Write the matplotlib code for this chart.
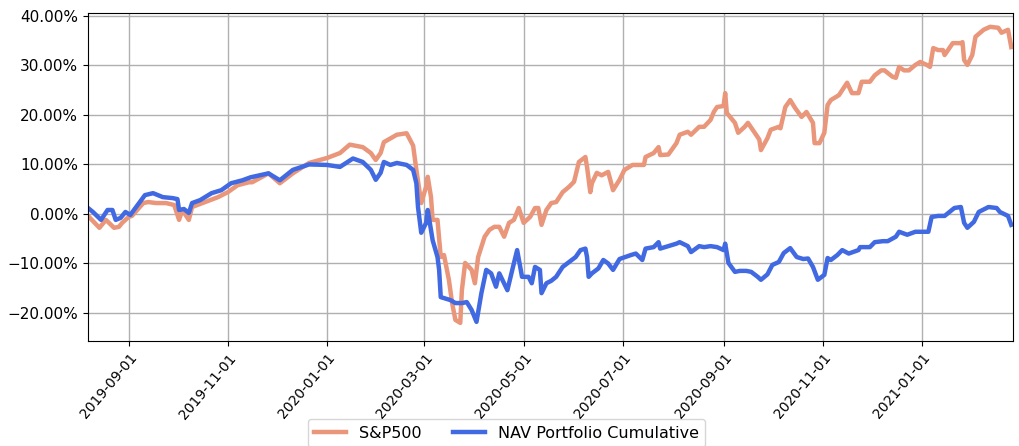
import pandas as pd
import matplotlib
matplotlib.use("Agg")
import matplotlib.pyplot as plt
import matplotlib.dates as mdates
from matplotlib.ticker import PercentFormatter

# S&P500 cumulative return (%)
sp_dates = [
    "2019-08-07", "2019-08-14", "2019-08-18", "2019-08-23", "2019-08-26", "2019-08-28",
    "2019-09-01", "2019-09-03", "2019-09-10", "2019-09-13", "2019-09-18", "2019-09-24",
    "2019-09-29", "2019-10-02", "2019-10-04", "2019-10-08", "2019-10-10", "2019-10-18",
    "2019-10-26", "2019-11-01", "2019-11-07", "2019-11-14", "2019-11-16", "2019-11-26",
    "2019-12-03", "2019-12-11", "2019-12-21", "2020-01-01", "2020-01-09", "2020-01-15",
    "2020-01-23", "2020-01-28", "2020-01-31", "2020-02-03", "2020-02-05", "2020-02-13",
    "2020-02-19", "2020-02-23", "2020-02-25", "2020-02-28", "2020-03-02", "2020-03-03",
    "2020-03-05", "2020-03-06", "2020-03-09", "2020-03-11", "2020-03-13", "2020-03-16",
    "2020-03-18", "2020-03-20", "2020-03-23", "2020-03-24", "2020-03-26", "2020-03-30",
    "2020-04-01", "2020-04-03", "2020-04-07", "2020-04-10", "2020-04-13", "2020-04-16",
    "2020-04-19", "2020-04-22", "2020-04-25", "2020-04-28", "2020-05-01", "2020-05-05",
    "2020-05-08", "2020-05-10", "2020-05-12", "2020-05-15", "2020-05-18", "2020-05-21",
    "2020-05-25", "2020-05-29", "2020-06-01", "2020-06-04", "2020-06-08", "2020-06-09",
    "2020-06-11", "2020-06-12", "2020-06-15", "2020-06-18", "2020-06-22", "2020-06-25",
    "2020-06-29", "2020-07-02", "2020-07-07", "2020-07-10", "2020-07-14", "2020-07-15",
    "2020-07-20", "2020-07-23", "2020-07-24", "2020-07-29", "2020-08-03", "2020-08-05",
    "2020-08-10", "2020-08-12", "2020-08-17", "2020-08-20", "2020-08-24", "2020-08-26",
    "2020-08-28", "2020-09-01", "2020-09-02", "2020-09-03", "2020-09-08", "2020-09-10",
    "2020-09-14", "2020-09-16", "2020-09-21", "2020-09-23", "2020-09-24", "2020-09-28",
    "2020-09-30", "2020-10-05", "2020-10-06", "2020-10-09", "2020-10-12", "2020-10-15",
    "2020-10-19", "2020-10-22", "2020-10-26", "2020-10-27", "2020-10-30", "2020-11-02",
    "2020-11-04", "2020-11-06", "2020-11-11", "2020-11-16", "2020-11-19", "2020-11-23",
    "2020-11-25", "2020-11-30", "2020-12-03", "2020-12-07", "2020-12-09", "2020-12-14",
    "2020-12-16", "2020-12-18", "2020-12-21", "2020-12-24", "2020-12-28", "2020-12-31",
    "2021-01-04", "2021-01-06", "2021-01-08", "2021-01-11", "2021-01-14", "2021-01-15",
    "2021-01-20", "2021-01-25", "2021-01-26", "2021-01-27", "2021-01-29", "2021-02-01",
    "2021-02-03", "2021-02-08", "2021-02-12", "2021-02-17", "2021-02-19", "2021-02-23",
    "2021-02-25",
]
sp_values = [
    -0.4, -2.8, -1.2, -2.8, -2.6, -1.8,
    -0.6, -0.4, 2.2, 2.4, 2.2, 2.2,
    1.8, -1.2, 0.8, -1.2, 1.4, 2.4,
    3.4, 4.4, 5.8, 6.4, 6.4, 8.2,
    6.2, 8.2, 10.3, 11.3, 12.3, 14.0,
    13.5, 12.3, 10.9, 12.3, 14.5, 16.0,
    16.3, 13.8, 8.9, 2.2, 5.5, 7.5,
    3.4, -1.2, -1.2, -8.7, -8.3, -13.3,
    -18.0, -21.4, -22.0, -15.4, -9.9, -11.3,
    -14.0, -8.7, -4.6, -3.2, -2.6, -2.6,
    -4.6, -1.8, -1.2, 1.2, -1.8, -0.6,
    1.2, 1.2, -2.2, 0.8, 2.2, 2.4,
    4.4, 5.5, 6.5, 10.5, 11.5, 9.5,
    4.4, 6.2, 8.3, 7.8, 8.5, 4.8,
    6.9, 8.9, 9.9, 9.9, 9.9, 11.5,
    12.3, 13.5, 11.9, 12.0, 14.3, 16.0,
    16.6, 16.0, 17.6, 17.6, 19.0, 20.6,
    21.6, 21.8, 24.4, 20.4, 18.4, 16.4,
    17.6, 18.4, 16.0, 15.0, 12.9, 15.3,
    17.0, 17.6, 17.3, 21.6, 23.0, 21.4,
    19.6, 20.6, 18.4, 14.3, 14.3, 16.4,
    22.0, 23.0, 24.0, 26.5, 24.4, 24.4,
    26.7, 26.7, 28.0, 29.0, 29.0, 27.7,
    27.5, 29.7, 29.0, 29.0, 30.1, 30.7,
    30.1, 29.7, 33.5, 33.1, 33.1, 32.1,
    34.5, 34.5, 34.7, 31.1, 30.1, 32.1,
    35.8, 37.2, 37.8, 37.6, 36.6, 37.2,
    33.7,
]

# NAV portfolio cumulative return (%)
nav_dates = [
    "2019-08-07", "2019-08-10", "2019-08-15", "2019-08-19", "2019-08-22", "2019-08-24",
    "2019-08-27", "2019-08-30", "2019-09-02", "2019-09-11", "2019-09-16", "2019-09-22",
    "2019-09-28", "2019-10-01", "2019-10-02", "2019-10-05", "2019-10-08", "2019-10-10",
    "2019-10-15", "2019-10-22", "2019-10-28", "2019-11-03", "2019-11-10", "2019-11-15",
    "2019-11-26", "2019-12-03", "2019-12-11", "2019-12-21", "2020-01-01", "2020-01-09",
    "2020-01-17", "2020-01-23", "2020-01-28", "2020-01-31", "2020-02-03", "2020-02-05",
    "2020-02-09", "2020-02-13", "2020-02-19", "2020-02-23", "2020-02-25", "2020-02-26",
    "2020-02-28", "2020-03-02", "2020-03-03", "2020-03-05", "2020-03-06", "2020-03-09",
    "2020-03-10", "2020-03-11", "2020-03-13", "2020-03-17", "2020-03-20", "2020-03-24",
    "2020-03-27", "2020-03-30", "2020-04-02", "2020-04-05", "2020-04-08", "2020-04-11",
    "2020-04-14", "2020-04-16", "2020-04-21", "2020-04-24", "2020-04-27", "2020-04-30",
    "2020-05-04", "2020-05-06", "2020-05-08", "2020-05-11", "2020-05-12", "2020-05-15",
    "2020-05-18", "2020-05-21", "2020-05-25", "2020-05-29", "2020-06-02", "2020-06-05",
    "2020-06-08", "2020-06-09", "2020-06-10", "2020-06-12", "2020-06-16", "2020-06-19",
    "2020-06-22", "2020-06-25", "2020-06-29", "2020-07-06", "2020-07-09", "2020-07-13",
    "2020-07-15", "2020-07-20", "2020-07-23", "2020-07-24", "2020-07-29", "2020-08-03",
    "2020-08-05", "2020-08-10", "2020-08-12", "2020-08-17", "2020-08-20", "2020-08-24",
    "2020-08-28", "2020-09-01", "2020-09-02", "2020-09-04", "2020-09-08", "2020-09-11",
    "2020-09-15", "2020-09-18", "2020-09-22", "2020-09-24", "2020-09-28", "2020-10-01",
    "2020-10-05", "2020-10-08", "2020-10-12", "2020-10-16", "2020-10-20", "2020-10-23",
    "2020-10-26", "2020-10-29", "2020-11-02", "2020-11-04", "2020-11-06", "2020-11-10",
    "2020-11-13", "2020-11-17", "2020-11-23", "2020-11-24", "2020-11-30", "2020-12-03",
    "2020-12-08", "2020-12-11", "2020-12-16", "2020-12-18", "2020-12-23", "2020-12-28",
    "2020-12-31", "2021-01-05", "2021-01-07", "2021-01-11", "2021-01-15", "2021-01-18",
    "2021-01-21", "2021-01-25", "2021-01-27", "2021-01-29", "2021-02-02", "2021-02-05",
    "2021-02-11", "2021-02-16", "2021-02-18", "2021-02-23", "2021-02-25",
]
nav_values = [
    1.2, 0.4, -1.2, 0.8, 0.8, -1.2,
    -0.8, 0.4, -0.2, 3.8, 4.2, 3.4,
    3.2, 3.0, 0.8, 1.0, 0.2, 2.2,
    2.8, 4.2, 4.8, 6.2, 6.8, 7.4,
    8.2, 6.8, 8.9, 10.0, 9.9, 9.5,
    11.2, 10.5, 8.9, 6.9, 8.3, 10.5,
    9.9, 10.3, 9.9, 8.9, 6.2, 1.4,
    -3.8, -1.8, 0.8, -3.2, -5.3, -8.7,
    -11.3, -16.8, -17.0, -17.4, -18.0, -18.0,
    -17.8, -19.4, -21.8, -16.0, -11.3, -12.0,
    -14.7, -12.0, -15.4, -11.3, -7.3, -12.7,
    -12.7, -14.0, -10.7, -11.3, -16.0, -14.0,
    -13.5, -12.7, -10.7, -9.7, -8.7, -7.3,
    -7.0, -8.7, -12.7, -12.0, -11.0, -9.3,
    -10.0, -11.3, -9.1, -8.3, -8.0, -9.3,
    -7.0, -6.7, -5.7, -7.0, -6.5, -6.0,
    -5.7, -6.5, -7.7, -6.5, -6.7, -6.5,
    -6.7, -7.3, -6.0, -9.9, -11.7, -11.5,
    -11.5, -11.7, -12.7, -13.3, -12.2, -10.3,
    -9.7, -7.9, -6.9, -8.7, -9.1, -9.0,
    -10.7, -13.3, -12.3, -8.9, -9.3, -8.3,
    -7.3, -8.0, -7.3, -6.7, -6.7, -5.7,
    -5.5, -5.5, -4.6, -3.6, -4.2, -3.6,
    -3.6, -3.6, -0.6, -0.4, -0.4, 0.4,
    1.2, 1.4, -1.8, -2.8, -1.6, 0.4,
    1.4, 1.2, 0.4, -0.4, -2.2,
]

sp = pd.Series(sp_values, index=pd.to_datetime(sp_dates)) / 100
nav = pd.Series(nav_values, index=pd.to_datetime(nav_dates)) / 100

fig = plt.figure(figsize=(10.19, 4.46), dpi=100)
ax = fig.add_axes([0.0864, 0.235, 0.9076, 0.736])

ax.plot(sp.index, sp.values, color="darksalmon", linewidth=3.2, label="S&P500")
ax.plot(nav.index, nav.values, color="royalblue", linewidth=3.2, label="NAV Portfolio Cumulative")

ax.set_xlim(pd.Timestamp("2019-08-07"), pd.Timestamp("2021-02-26"))
ax.set_ylim(-0.257, 0.406)
ax.set_yticks([-0.2, -0.1, 0.0, 0.1, 0.2, 0.3, 0.4])
ax.yaxis.set_major_formatter(PercentFormatter(1.0, decimals=2))
ax.xaxis.set_major_locator(mdates.MonthLocator(bymonth=[1, 3, 5, 7, 9, 11]))
ax.xaxis.set_major_formatter(mdates.DateFormatter("%Y-%m-%d"))
ax.tick_params(axis="y", labelsize=11)
plt.setp(ax.get_xticklabels(), rotation=50, ha="right", rotation_mode="anchor", fontsize=10)
ax.grid(True, color="#b0b0b0", linewidth=1)

fig.legend(loc="upper center", bbox_to_anchor=(0.497, 0.078), ncol=2, fontsize=11.5)

fig.savefig("out.png", dpi=100)
